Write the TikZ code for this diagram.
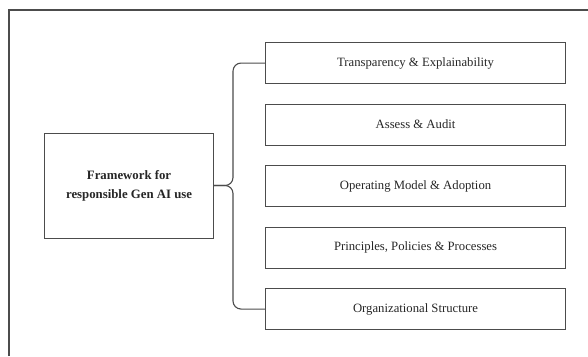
\documentclass[tikz,border=0pt]{standalone}
\usepackage{fontspec}
\setmainfont{Liberation Serif}
\begin{document}
\begin{tikzpicture}[x=1pt,y=-1pt,
  line/.style={draw=black!70,line width=1.1pt},
  pillar/.style={line,minimum width=300pt,minimum height=41pt,anchor=north west,font=\fontsize{12.7}{14}\selectfont,text=black!85},
  core/.style={line,minimum width=169pt,minimum height=105pt,anchor=north west,align=center,font=\fontsize{12.8}{18.5}\selectfont\bfseries,text=black!85}]
\useasboundingbox (0,0) rectangle (588,356);
% page frame
\draw[line] (9,356) -- (9,10) -- (588,10);
% central node
\node[core] (fw) at (44,133) {Framework for\\responsible Gen AI use};
% pillars
\node[pillar] (p1) at (265,42) {Transparency \& Explainability};
\node[pillar] (p2) at (265,103.5) {Assess \& Audit};
\node[pillar] (p3) at (265,165) {Operating Model \& Adoption};
\node[pillar] (p4) at (265,226.5) {Principles, Policies \& Processes};
\node[pillar] (p5) at (265,288) {Organizational Structure};
% brace linking the central node to the first and last pillars
\coordinate (nib) at (214,185.5);
\draw[line,rounded corners=8pt] (p1.west) -| (233,185.5) -- (nib);
\draw[line,rounded corners=8pt] (p5.west) -| (233,185.5) -- (nib);
\draw[line] (fw.east) -- (nib);
\end{tikzpicture}
\end{document}
